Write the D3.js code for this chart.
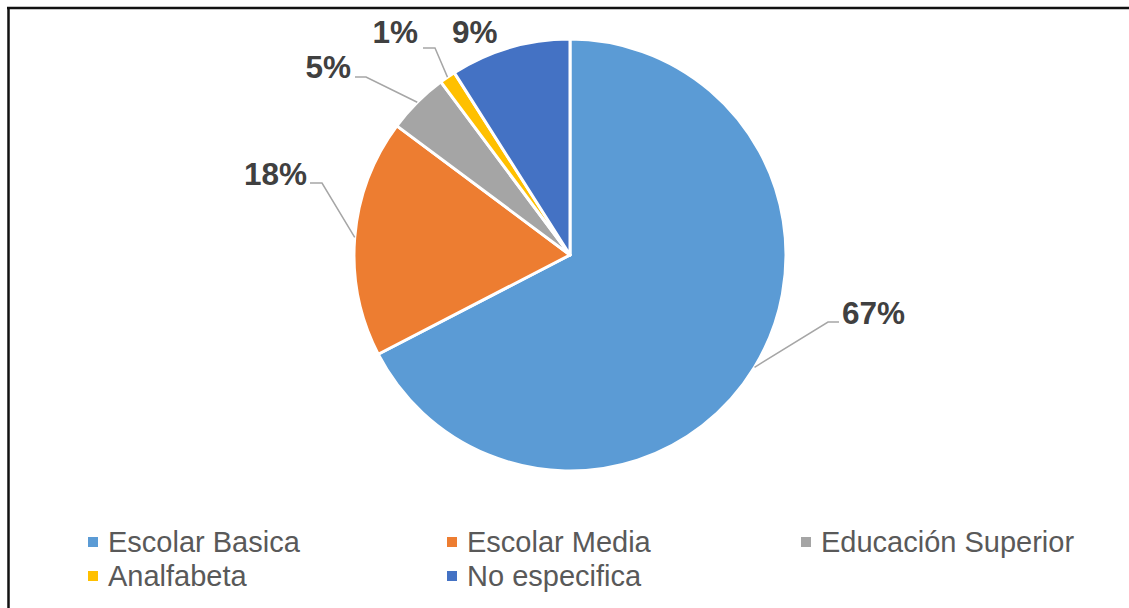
<!DOCTYPE html>
<html>
<head>
<meta charset="utf-8">
<script src="https://cdn.jsdelivr.net/npm/d3@7"></script>
<style>
  body { margin: 0; background: #fff; }
  .pct { font-family: "Liberation Sans", Arial, sans-serif; font-weight: bold; font-size: 31.5px; fill: #404040; }
  .legend-label { font-family: "Liberation Sans", Arial, sans-serif; font-size: 29px; fill: #595959; }
</style>
</head>
<body>
<svg></svg>
<script>
// Data
const categories = ["Escolar Basica", "Escolar Media", "Educación Superior", "Analfabeta", "No especifica"];
const values = [67.4, 17.8, 4.6, 1.2, 9.0];
const colors = ["#5B9BD5", "#ED7D31", "#A5A5A5", "#FFC000", "#4472C4"];

const width = 1129, height = 608;
const cx = 570, cy = 255, radius = 216;

// label placement (Excel style: text position + leader elbow)
const labelLayout = [
  {x: 842, y: 324, anchor: "start", elbow: [828, 322], end: [839, 322]},
  {x: 307, y: 185, anchor: "end",   elbow: [322, 183], end: [310, 183]},
  {x: 351, y: 78,  anchor: "end",   elbow: [366, 77],  end: [355, 77]},
  {x: 418, y: 43,  anchor: "end",   elbow: [435, 48],  end: [423, 48]},
  {x: 452, y: 43,  anchor: "start", elbow: null,       end: null}
];

const svg = d3.select("svg")
    .attr("width", width)
    .attr("height", height);

// frame (top and left edges)
svg.append("line")
    .attr("x1", 7).attr("y1", 8).attr("x2", width).attr("y2", 8)
    .attr("stroke", "#111").attr("stroke-width", 2.5);
svg.append("line")
    .attr("x1", 8.5).attr("y1", 7).attr("x2", 8.5).attr("y2", height)
    .attr("stroke", "#111").attr("stroke-width", 2.5);

const data = categories.map((c, i) => ({name: c, value: values[i], color: colors[i]}));
const total = d3.sum(values);
const fmt = d3.format(".0%");

const pie = d3.pie()
    .sort(null)
    .value(d => d.value);

const arc = d3.arc()
    .innerRadius(0)
    .outerRadius(radius);

const arcs = pie(data);

const g = svg.append("g")
    .attr("transform", `translate(${cx},${cy})`);

g.selectAll("path")
  .data(arcs)
  .enter()
  .append("path")
    .attr("d", arc)
    .attr("fill", d => d.data.color)
    .attr("stroke", "#fff")
    .attr("stroke-width", 3)
    .attr("stroke-linejoin", "round");

// leader lines: from slice edge at mid angle to elbow
arcs.forEach((d, i) => {
  const L = labelLayout[i];
  if (!L.elbow) return;
  const mid = (d.startAngle + d.endAngle) / 2;
  const sx = cx + Math.sin(mid) * radius;
  const sy = cy - Math.cos(mid) * radius;
  svg.append("polyline")
      .attr("points", [[sx, sy], L.elbow, L.end].map(p => p.join(",")).join(" "))
      .attr("fill", "none")
      .attr("stroke", "#A6A6A6")
      .attr("stroke-width", 1.5);
});

svg.selectAll("text.pct")
  .data(arcs)
  .enter()
  .append("text")
    .attr("class", "pct")
    .attr("x", (d, i) => labelLayout[i].x)
    .attr("y", (d, i) => labelLayout[i].y)
    .attr("text-anchor", (d, i) => labelLayout[i].anchor)
    .text(d => fmt(d.data.value / total));

// Legend
const colX = [88, 447, 801];
const rowY = [552, 586];
const legend = svg.selectAll("g.legend")
  .data(data)
  .enter()
  .append("g")
    .attr("class", "legend")
    .attr("transform", (d, i) => `translate(${colX[i % 3]},${rowY[Math.floor(i / 3)]})`);

legend.append("rect")
    .attr("x", 0).attr("y", -15)
    .attr("width", 10).attr("height", 10)
    .attr("fill", d => d.color);

legend.append("text")
    .attr("class", "legend-label")
    .attr("x", 20)
    .attr("y", 0)
    .text(d => d.name);
</script>
</body>
</html>
